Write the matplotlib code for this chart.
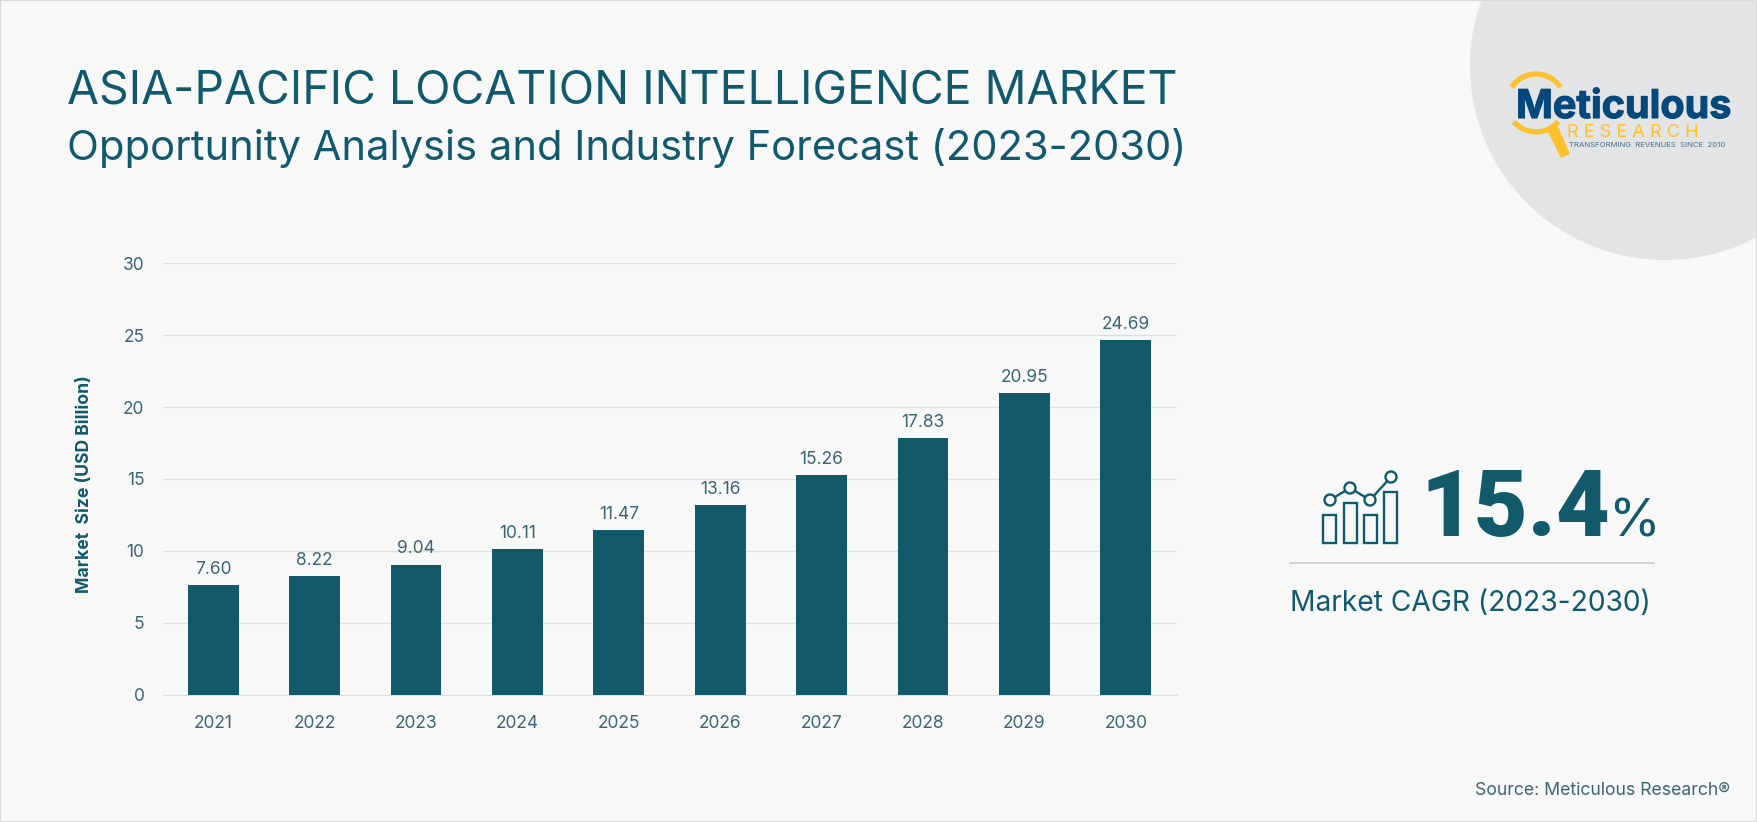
import matplotlib
matplotlib.use("Agg")
import matplotlib.pyplot as plt
import matplotlib.patheffects as pe
from matplotlib.patches import Arc, Circle, Ellipse, Rectangle, Polygon

years = ["2021", "2022", "2023", "2024", "2025", "2026", "2027", "2028", "2029", "2030"]
market_size = [7.60, 8.22, 9.04, 10.11, 11.47, 13.16, 15.26, 17.83, 20.95, 24.69]
y_ticks = [0, 5, 10, 15, 20, 25, 30]
icon_bars = [(1323, 515), (1344, 503), (1364, 515), (1384, 492)]
icon_points = [(1330, 500), (1350, 488), (1370, 500), (1391, 477)]

W, H = 1757, 822
BG = "#f8f8f9"
TEAL = "#125a6b"
TICK = "#3c6572"
GRID = "#d9e1e4"
NAVY = "#04487c"
YELLOW = "#fdc02f"
FONT = "Inter"

plt.rcParams["font.family"] = [FONT, "DejaVu Sans"]

fig = plt.figure(figsize=(W / 100, H / 100), dpi=100, facecolor=BG)

# overlay in pixel coords for everything that isn't the chart
bg = fig.add_axes([0, 0, 1, 1], zorder=0)
bg.set_xlim(0, W)
bg.set_ylim(H, 0)
bg.axis("off")
bg.add_patch(Ellipse((1665, 66), 390, 388, color="#e3e4e5", lw=0))
bg.add_patch(Rectangle((0, 0), W, H, fill=False, ec="#d9dadb", lw=1.5))

bg.text(67, 104, "ASIA-PACIFIC LOCATION INTELLIGENCE MARKET", fontsize=33.4, color=TEAL, va="baseline")
bg.text(67, 160, "Opportunity Analysis and Industry Forecast (2023-2030)", fontsize=30, color=TEAL, va="baseline")

# logo, y axis is flipped here so 180-360 is the top of the ring
bg.add_patch(Arc((1536, 103), 58, 58, theta1=213, theta2=327, color=YELLOW, lw=3.8))
bg.add_patch(Arc((1536, 103), 58, 58, theta1=40, theta2=140, color=YELLOW, lw=3.8))
bg.add_patch(Polygon([(1547, 130), (1557, 124), (1570, 154), (1561, 158)], color=YELLOW, lw=0))
bg.text(1516, 118, "Meticulous", fontsize=28.5, fontweight="bold", color=NAVY, va="baseline",
        path_effects=[pe.withStroke(linewidth=0.8, foreground=NAVY)])
bg.text(1567, 137, "R E S E A R C H", fontsize=13, color=YELLOW, va="baseline")
bg.text(1569, 147, "TRANSFORMING  REVENUES  SINCE  2010", fontsize=5.6, color="#4a6f85", va="baseline")

# growth icon
for x, top in icon_bars:
    bg.add_patch(Rectangle((x, top), 13, 543 - top, fill=False, ec=TEAL, lw=1.7))
bg.plot([p[0] for p in icon_points], [p[1] for p in icon_points], color=TEAL, lw=1.7, zorder=2)
for p in icon_points:
    bg.add_patch(Circle(p, 5.5, fc=BG, ec=TEAL, lw=1.7, zorder=3))

bg.text(1420, 536, "15.4", fontsize=67, fontfamily="Roboto", fontweight="black", color=TEAL, va="baseline")
bg.text(1608, 536, "%", fontsize=38, color=TEAL, va="baseline")
bg.plot([1290, 1654], [563, 563], color="#c9cccd", lw=1.2)
bg.text(1290, 611, "Market CAGR (2023-2030)", fontsize=20.3, color=TEAL, va="baseline")
bg.text(1730, 795, "Source: Meticulous Research\u00ae", fontsize=12.7, color=TICK, ha="right", va="baseline")

# chart
left, right, top, bottom = 162.5, 1176.5, 263.3, 694.5
ax = fig.add_axes([left / W, 1 - bottom / H, (right - left) / W, (bottom - top) / H], zorder=1)
ax.patch.set_alpha(0)
ax.bar(years, market_size, width=0.5, color=TEAL, zorder=3)
for i, v in enumerate(market_size):
    ax.annotate(f"{v:.2f}", (i, v), xytext=(0, 8), textcoords="offset points",
                ha="center", va="baseline", fontsize=12.5, color=TICK)
ax.set_xlim(-0.5, 9.5)
ax.set_ylim(0, 30)
ax.set_yticks(y_ticks)
ax.grid(axis="y", color=GRID, lw=1, zorder=0)
ax.tick_params(length=0, labelsize=12.5, labelcolor=TICK)
ax.tick_params(axis="y", pad=13)
ax.tick_params(axis="x", pad=15)
for s in ["top", "right", "left"]:
    ax.spines[s].set_visible(False)
ax.spines["bottom"].set_color(GRID)
ax.set_ylabel("Market  Size (USD Billion)", fontsize=12.7, fontweight="bold", color=TEAL)
ax.yaxis.set_label_coords((93 - left) / (right - left), (bottom - 484) / (bottom - top))

fig.savefig("out.png", dpi=100, facecolor=BG)
